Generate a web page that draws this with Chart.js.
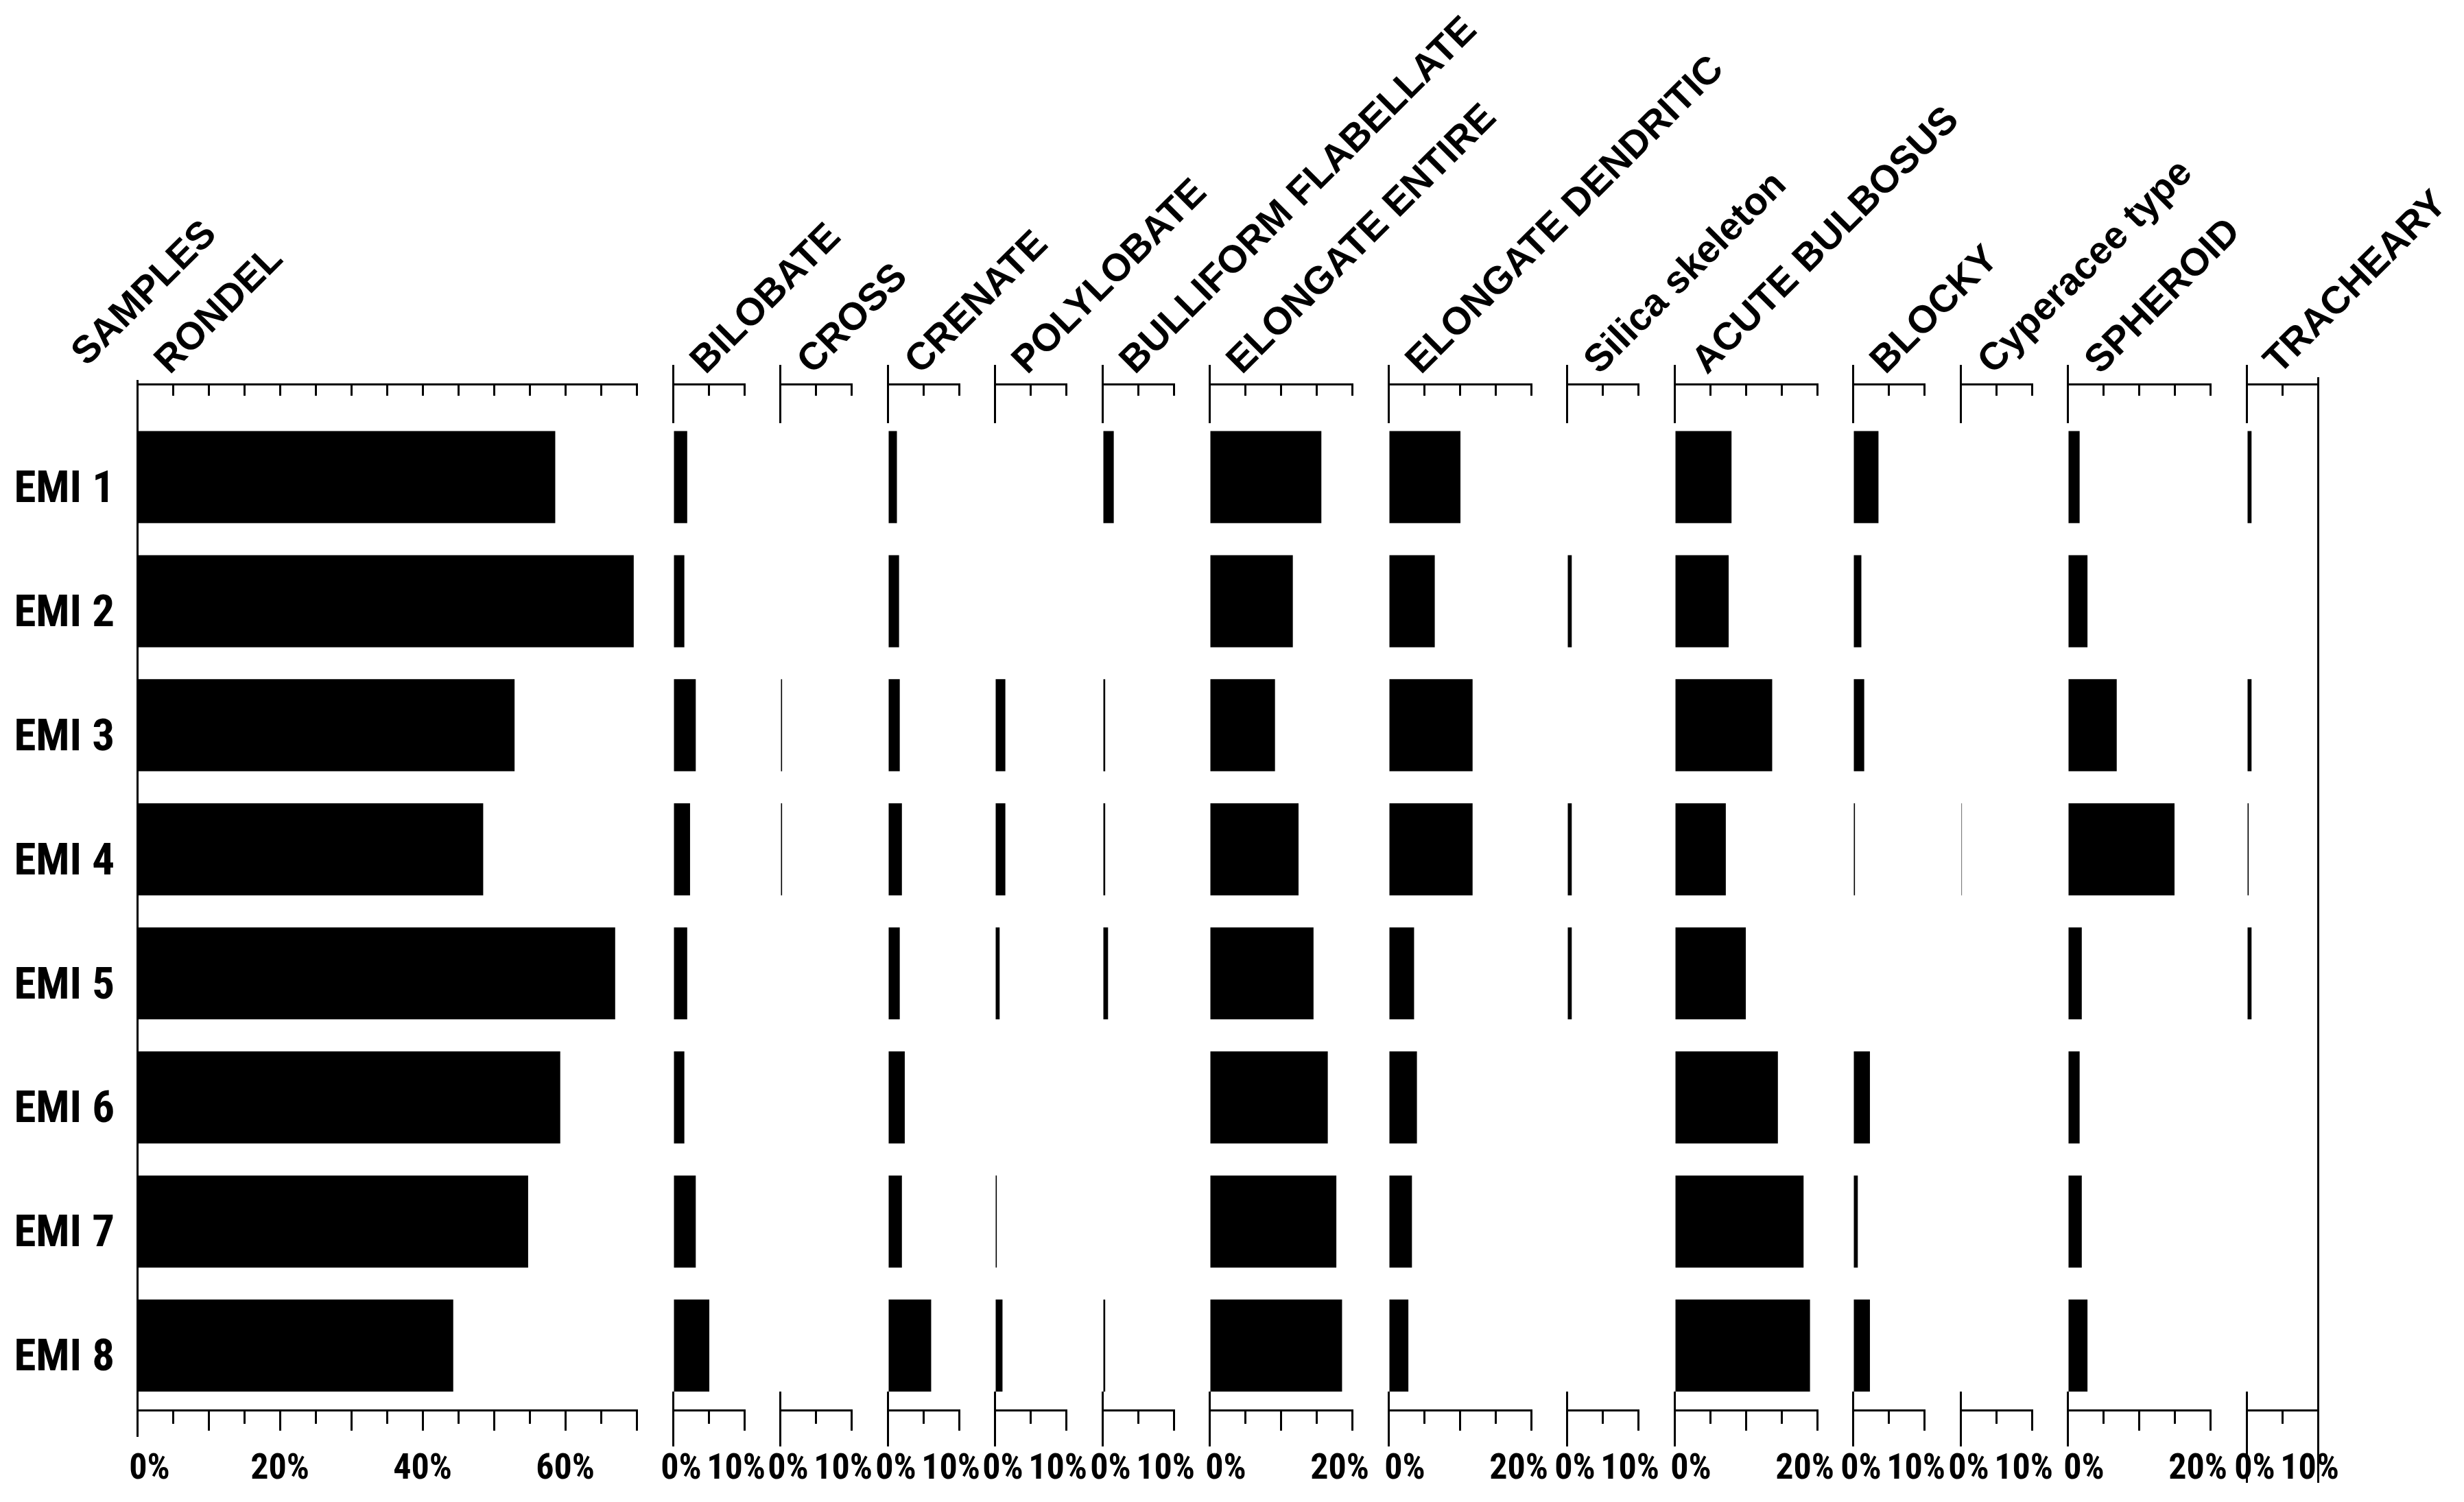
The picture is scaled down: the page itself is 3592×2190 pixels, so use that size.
<!DOCTYPE html>
<html>
<head>
<meta charset="utf-8">
<title>Phytolith percentages</title>
<script src="https://cdn.jsdelivr.net/npm/chart.js@4.4.1/dist/chart.umd.min.js"></script>
<style>
  html, body { margin: 0; padding: 0; background: #fff; }
  #wrap { position: relative; width: 3592px; height: 2190px; overflow: hidden; background: #fff; }
  #wrap canvas { position: absolute; top: 0; }
</style>
</head>
<body>
<div id="wrap"></div>
<script>
// samples (rows) and morphotypes (panels)
const samples = ['EMI 1', 'EMI 2', 'EMI 3', 'EMI 4', 'EMI 5', 'EMI 6', 'EMI 7', 'EMI 8'];
const taxa = ['RONDEL', 'BILOBATE', 'CROSS', 'CRENATE', 'POLYLOBATE', 'BULLIFORM FLABELLATE',
  'ELONGATE ENTIRE', 'ELONGATE DENDRITIC', 'Silica skeleton', 'ACUTE BULBOSUS', 'BLOCKY',
  'Cyperacee type', 'SPHEROID', 'TRACHEARY'];
const axisMax = [70, 10, 10, 10, 10, 10, 20, 20, 10, 20, 10, 10, 20, 10];

// percentages, EMI 1 .. EMI 8
const rondel            = [58.6, 69.6, 52.9, 48.5, 67.0, 59.3, 54.8, 44.3];
const bilobate          = [2.0, 1.6, 3.2, 2.4, 2.0, 1.6, 3.2, 5.1];
const cross             = [0, 0, 0.3, 0.3, 0, 0, 0, 0];
const crenate           = [1.3, 1.6, 1.7, 2.0, 1.7, 2.4, 2.0, 6.1];
const polylobate        = [0, 0, 1.5, 1.5, 0.7, 0, 0.3, 1.1];
const bulliform         = [1.6, 0, 0.4, 0.4, 0.8, 0, 0, 0.4];
const elongateEntire    = [15.7, 11.7, 9.2, 12.5, 14.6, 16.6, 17.8, 18.6];
const elongateDendritic = [10.1, 6.5, 11.8, 11.8, 3.6, 4.0, 3.3, 2.8];
const silicaSkeleton    = [0, 0.7, 0, 0.7, 0.7, 0, 0, 0];
const acuteBulbosus     = [8.0, 7.6, 13.7, 7.2, 10.0, 14.5, 18.1, 19.0];
const blocky            = [3.6, 1.2, 1.6, 0.3, 0, 2.4, 0.7, 2.4];
const cyperacee         = [0, 0, 0, 0.2, 0, 0, 0, 0];
const spheroid          = [1.7, 2.8, 6.9, 15.0, 2.0, 1.7, 2.0, 2.8];
const tracheary         = [0.7, 0, 0.7, 0.3, 0.7, 0, 0, 0];

const series = [rondel, bilobate, cross, crenate, polylobate, bulliform, elongateEntire,
  elongateDendritic, silicaSkeleton, acuteBulbosus, blocky, cyperacee, spheroid, tracheary];

// page layout
const PAGE_W = 3592, PAGE_H = 2190;
const PCT = 10.4;      // px per percent
const GAP = 52.5;      // space between panels
const X0 = 200;        // left edge of first panel
const TOP = 560, BOTTOM = 2056;
const TOP_H = TOP, BOTTOM_H = 120;
const BLACK = '#000', NONE = 'rgba(0,0,0,0)';

// look for a condensed bold face for the sample names and % labels
function pickNarrow() {
  const ctx = document.createElement('canvas').getContext('2d');
  const txt = 'EMI 1 0% 10%';
  const measure = f => { ctx.font = f; return ctx.measureText(txt).width; };
  const ref = measure("bold 50px 'Liberation Sans'");
  const candidates = [
    { weight: 'bold', family: "'Liberation Sans Narrow'" },
    { weight: 'bold', family: "'Arial Narrow'" },
    { weight: 'bold', family: "'Roboto Condensed'" },
    { weight: 'bold', family: "'Noto Sans Condensed'" },
    { weight: 'condensed bold', family: "'Noto Sans'" },
    { weight: 'condensed bold', family: "'Roboto'" },
    { weight: 'bold', family: "'Open Sans Condensed'" },
    { weight: 'condensed bold', family: "'Open Sans'" }
  ];
  for (const c of candidates) {
    const w = measure(c.weight + ' 50px ' + c.family + ', monospace');
    if (w < ref * 0.92) return { weight: c.weight, family: c.family + ', sans-serif', ratio: w / ref };
  }
  return { weight: 'bold', family: "'Liberation Sans', Arial, sans-serif", ratio: 1 };
}
const narrow = pickNarrow();
const EMI_SIZE = Math.min(68, Math.round(54 / narrow.ratio));
const TICK_SIZE = Math.min(54, Math.round(43 / narrow.ratio));
const EMI_FONT = { family: narrow.family, weight: narrow.weight, size: EMI_SIZE };
const TICK_FONT = { family: narrow.family, weight: narrow.weight, size: TICK_SIZE };
const HEAD_FONT = { family: "'Liberation Sans', Arial, sans-serif", weight: 'bold', size: 56 };

const wrap = document.getElementById('wrap');

function addCanvas(left, width) {
  const c = document.createElement('canvas');
  c.width = width;
  c.height = PAGE_H;
  c.style.left = left + 'px';
  wrap.appendChild(c);
  return c;
}

function bottomLabel(i, v) {
  const max = axisMax[i];
  if (v === 0) return (i === 0 ? '   ' : max === 20 ? '    ' : '  ') + '0%';
  if (i === 0) return v % 20 === 0 ? v + '%' : '';
  if (v === max) return v + '%' + (max === 20 ? '   ' : '  ');
  return '';
}

function makeSamplesHeader() {
  const canvas = addCanvas(0, 700);
  new Chart(canvas, {
    type: 'bar',
    data: { datasets: [] },
    options: {
      responsive: false,
      animation: false,
      devicePixelRatio: 1,
      layout: { padding: { left: 60, right: 500, top: TOP - TOP_H, bottom: PAGE_H - BOTTOM - BOTTOM_H } },
      plugins: { legend: { display: false }, tooltip: { enabled: false } },
      scales: {
        x: {
          type: 'linear', position: 'top', min: 0, max: 1,
          afterBuildTicks: s => { s.ticks = [{ value: 0 }, { value: 1 }]; },
          afterFit: s => { s.height = TOP_H; },
          border: { display: false },
          grid: { display: false, drawTicks: false },
          ticks: {
            autoSkip: false, minRotation: 45, maxRotation: 45, padding: 12, labelOffset: 68,
            color: BLACK, font: HEAD_FONT,
            callback: v => (v === 0 ? 'SAMPLES' : '')
          }
        },
        y: { type: 'linear', display: false, min: 0, max: 1 }
      }
    }
  });
}

function makePanel(i, left) {
  const max = axisMax[i];
  const right = left + max * PCT;
  const first = i === 0;
  const last = i === taxa.length - 1;
  const cl = first ? 0 : left - 100;
  const cr = Math.min(PAGE_W, Math.round(right + 720));
  const canvas = addCanvas(cl, cr - cl);

  const steps = [];
  for (let v = 0; v <= max; v += 5) steps.push(v);
  const setSteps = s => { s.ticks = steps.map(v => ({ value: v })); };
  const val = c => (c.tick ? c.tick.value : null);

  new Chart(canvas, {
    type: 'bar',
    data: {
      datasets: [{
        data: series[i].map((v, k) => ({ x: v, y: k })),
        xAxisID: 'x',
        yAxisID: 'y',
        backgroundColor: BLACK,
        borderWidth: 0,
        barPercentage: 0.742,
        categoryPercentage: 1
      }]
    },
    options: {
      indexAxis: 'y',
      responsive: false,
      animation: false,
      devicePixelRatio: 1,
      layout: {
        padding: { left: first ? 0 : left - cl, right: cr - right, top: TOP - TOP_H, bottom: PAGE_H - BOTTOM - BOTTOM_H }
      },
      plugins: { legend: { display: false }, tooltip: { enabled: false } },
      scales: {
        y: {
          type: 'linear', reverse: true, min: -0.75, max: 7.52, offset: false,
          display: first,
          afterBuildTicks: s => { s.ticks = samples.map((_, k) => ({ value: k })); },
          afterFit: s => { s.width = first ? left : 0; },
          grid: { display: false, drawTicks: false, offset: false },
          border: { display: false },
          ticks: {
            autoSkip: false, padding: 33, labelOffset: 20, color: BLACK, font: EMI_FONT,
            callback: (v, k) => samples[k]
          }
        },
        x: {
          type: 'linear', position: 'bottom', min: 0, max: max, offset: false,
          afterBuildTicks: setSteps,
          afterFit: s => { s.height = BOTTOM_H; },
          border: {
            display: true, color: BLACK, width: 3,
            dash: c => {
              if (val(c) !== 0) return [];
              const h = c.chart.chartArea.bottom - c.chart.chartArea.top;
              return [0, h - 27, 27, 10000];
            }
          },
          grid: {
            drawOnChartArea: true,
            color: c => (val(c) === 0 && !first ? BLACK : NONE),
            lineWidth: 3,
            tickLength: last ? 106 : 53,
            tickWidth: 3,
            tickColor: BLACK,
            tickBorderDash: c => {
              const v = val(c);
              if (v === 0) return first ? [37, 10000] : [];
              if (last && v === max) return [];
              return v % 10 === 0 ? [28, 10000] : [18, 10000];
            }
          },
          ticks: {
            autoSkip: false, maxRotation: 0, minRotation: 0,
            padding: last ? -50 : 3, color: BLACK, font: TICK_FONT,
            callback: v => bottomLabel(i, v)
          }
        },
        xTop: {
          type: 'linear', position: 'top', min: 0, max: max, offset: false,
          afterBuildTicks: setSteps,
          afterFit: s => { s.height = TOP_H; },
          border: {
            display: true, color: BLACK, width: 3,
            dash: c => {
              const v = val(c);
              if (v === null) return [];
              if (v === 0) return first ? [] : [55, 10000];
              if (last && v === max) return [];
              return [15, 10000];
            }
          },
          grid: {
            drawOnChartArea: true,
            color: BLACK,
            lineWidth: 3,
            tickLength: 28,
            tickWidth: 3,
            tickColor: c => {
              const v = val(c);
              return v === 0 || (last && v === max) ? BLACK : NONE;
            },
            tickBorderDash: c => {
              const v = val(c);
              if (v === 0) return first ? [0, 22, 6, 10000] : [];
              return [0, 18, 10, 10000];
            }
          },
          ticks: {
            autoSkip: false, minRotation: 45, maxRotation: 45,
            padding: -28, labelOffset: 84, color: BLACK, font: HEAD_FONT,
            callback: v => (v === 0 ? taxa[i] : '')
          }
        }
      }
    }
  });
}

makeSamplesHeader();
let x = X0;
taxa.forEach((name, i) => {
  makePanel(i, Math.round(x));
  x += axisMax[i] * PCT + GAP;
});
</script>
</body>
</html>
